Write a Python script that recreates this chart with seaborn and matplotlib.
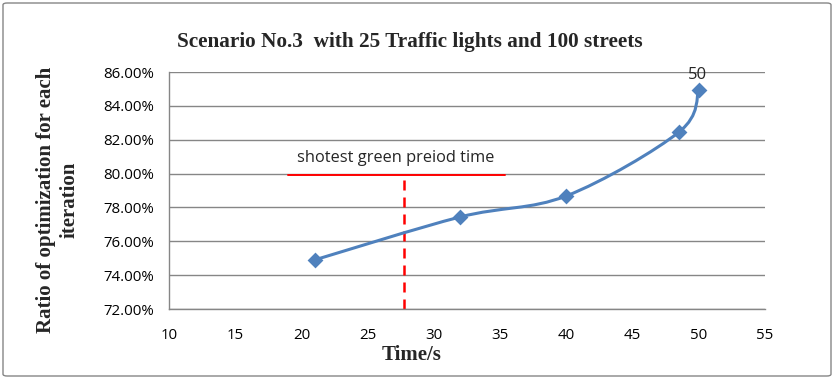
import numpy as np
import pandas as pd
import matplotlib
matplotlib.use("Agg")
import matplotlib.pyplot as plt
import seaborn as sns
from matplotlib.path import Path
from matplotlib.patches import PathPatch, FancyBboxPatch
from matplotlib.ticker import FuncFormatter

# ---- data ----
time_s = [21.0, 32.0, 40.0, 48.5, 50.0]
ratio = [0.7490, 0.7744, 0.7868, 0.8245, 0.8495]
ref_line_y = 0.7990
ref_line_x = [19.0, 35.4]
ref_vline_x = 27.75
ref_text = "shotest green preiod time"
point_label = "50"
title = "Scenario No.3  with 25 Traffic lights and 100 streets"
xlabel = "Time/s"
ylabel = "Ratio of optimization for each\niteration"
x_ticks = [10, 15, 20, 25, 30, 35, 40, 45, 50, 55]
y_ticks = [0.72, 0.74, 0.76, 0.78, 0.80, 0.82, 0.84, 0.86]

df = pd.DataFrame({"time": time_s, "ratio": ratio})

sns.set_theme(style="white")
plt.rcParams["font.family"] = ["Open Sans", "DejaVu Sans"]

W, H = 834, 379
fig = plt.figure(figsize=(W / 100, H / 100), dpi=100)
ax = fig.add_axes([169 / W, 1 - 309 / H, (765 - 169) / W, (309 - 72) / H])

blue = "#4F81BD"
grid_c = "#868686"

ax.set_xlim(10, 55)
ax.set_ylim(0.72, 0.86)
ax.set_xticks(x_ticks)
ax.set_yticks(y_ticks)
ax.yaxis.set_major_formatter(FuncFormatter(lambda v, p: f"{v*100:.2f}%"))
ax.grid(axis="y", color=grid_c, linewidth=1.0)
ax.set_axisbelow(True)
for s in ["top", "right"]:
    ax.spines[s].set_visible(False)
for s in ["left", "bottom"]:
    ax.spines[s].set_color(grid_c)
    ax.spines[s].set_linewidth(1.0)
ax.tick_params(axis="both", length=0, labelsize=10.8, colors="black")
ax.tick_params(axis="x", pad=13.5)
ax.tick_params(axis="y", pad=11)

# smoothed curve (Excel-style Bezier through the data points)
P = np.column_stack([time_s, ratio])
n = len(P)
verts = [tuple(P[0])]
codes = [Path.MOVETO]
for i in range(n - 1):
    p0 = P[i - 1] if i > 0 else P[i]
    p1 = P[i]
    p2 = P[i + 1]
    p3 = P[i + 2] if i + 2 < n else P[i + 1]
    c1 = p1 + (p2 - p0) / 6
    c2 = p2 - (p3 - p1) / 6
    verts += [tuple(c1), tuple(c2), tuple(p2)]
    codes += [Path.CURVE4] * 3
ax.add_patch(PathPatch(Path(verts, codes), facecolor="none", edgecolor=blue,
                       linewidth=2.2, zorder=3, capstyle="round"))

sns.scatterplot(data=df, x="time", y="ratio", marker="D", s=65, color=blue,
                edgecolor=blue, linewidth=0, zorder=4, ax=ax, legend=False)
ax.set_xlabel("")
ax.set_ylabel("")

ax.annotate(point_label, (time_s[-1], ratio[-1]), xytext=(-1, 5),
            textcoords="offset points", ha="center", va="bottom", fontsize=12)

# reference lines
ax.plot(ref_line_x, [ref_line_y, ref_line_y], color="red", linewidth=1.4, zorder=2)
ax.plot([ref_vline_x, ref_vline_x], [0.72, ref_line_y], color="red", linewidth=1.8,
        linestyle=(0, (4, 2.8)), zorder=2)
ax.text(sum(ref_line_x) / 2 - 0.1, ref_line_y + 0.0055, ref_text, ha="center",
        va="bottom", fontsize=11.8)

fig.text(412 / W, 1 - 355 / H, xlabel, family="Liberation Serif", fontweight="bold",
         fontsize=15, ha="center", va="center")
fig.text(58 / W, 1 - 200 / H, ylabel, family="Liberation Serif", fontweight="bold",
         fontsize=15, ha="center", va="center", rotation=90, linespacing=1.2,
         multialignment="center")
fig.text(410 / W, 1 - 42 / H, title, family="Liberation Serif", fontweight="bold",
         fontsize=15.3, ha="center", va="center")

fig.patches.append(FancyBboxPatch((3 / W, 3 / H), 828 / W, 373 / H,
                                  boxstyle="round,pad=0,rounding_size=0.005",
                                  transform=fig.transFigure, facecolor="none",
                                  edgecolor=grid_c, linewidth=1.0))

fig.savefig("out.png", dpi=100)
